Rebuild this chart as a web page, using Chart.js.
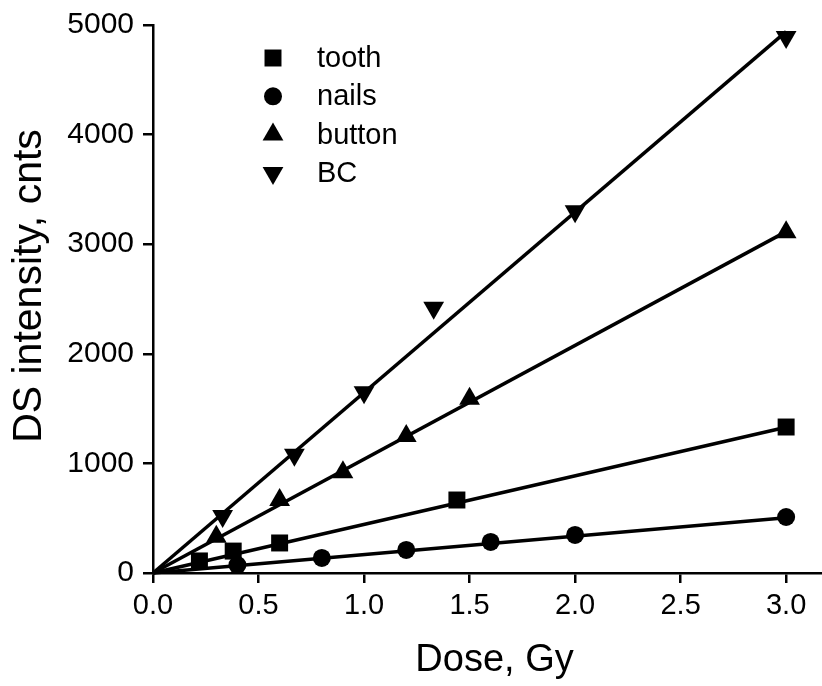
<!DOCTYPE html>
<html lang="en">
<head>
  <meta charset="UTF-8">
  <title>DS intensity vs dose</title>
  <script src="https://cdn.jsdelivr.net/npm/chart.js"></script>
  <style>
    html, body { margin: 0; padding: 0; background: #fff; }
    #wrap { width: 822px; height: 686px; }
  </style>
</head>
<body>
<div id="wrap">
  <canvas id="doseChart" width="822" height="686"></canvas>
</div>

<script>
  const toothDose = [0.22, 0.38, 0.6, 1.44, 3.0];
  const toothDS   = [110, 200, 274, 666, 1332];
  const nailsDose = [0.4, 0.8, 1.2, 1.6, 2.0, 3.0];
  const nailsDS   = [73, 137, 210, 283, 347, 511];
  const buttonDose = [0.3, 0.6, 0.9, 1.2, 1.5, 3.0];
  const buttonDS   = [330, 665, 920, 1250, 1590, 3110];
  const bcDose = [0.33, 0.67, 1.0, 1.33, 2.0, 3.0];
  const bcDS   = [520, 1080, 1650, 2420, 3300, 4890];

  // linear fits through origin (ends of the drawn lines)
  const fitDose   = [0, 3.0];
  const fitTooth  = [0, 1330];
  const fitNails  = [0, 505];
  const fitButton = [0, 3115];
  const fitBC     = [0, 4940];

  const xTicks = [0, 0.5, 1.0, 1.5, 2.0, 2.5, 3.0];
  const yTicks = [0, 1000, 2000, 3000, 4000, 5000];

  const xTitle = 'Dose, Gy';
  const yTitle = 'DS intensity, cnts';

  const FONT = "'Liberation Sans', Arial, sans-serif";

  const pts = (xs, ys) => xs.map((x, i) => ({ x: x, y: ys[i] }));

  function markerSet(label, xs, ys, style, radius, rotation) {
    return {
      label: label,
      data: pts(xs, ys),
      showLine: false,
      pointStyle: style,
      pointRadius: radius,
      pointHoverRadius: radius,
      pointRotation: rotation || 0,
      backgroundColor: '#000',
      borderColor: '#000',
      borderWidth: 0,
      clip: false
    };
  }

  function fitSet(ys) {
    return {
      label: '',
      fit: true,
      data: pts(fitDose, ys),
      showLine: true,
      pointRadius: 0,
      borderColor: '#000',
      borderWidth: 3.5,
      fill: false,
      clip: false
    };
  }

  // legend drawn inside the plot, upper left
  const insideLegend = {
    id: 'insideLegend',
    afterDatasetsDraw(chart) {
      const ctx = chart.ctx;
      const area = chart.chartArea;
      const x0 = area.left + 120;
      const tx = area.left + 164;
      let y = area.top + 33;
      ctx.save();
      ctx.font = '29px ' + FONT;
      ctx.fillStyle = '#000';
      ctx.textBaseline = 'middle';
      chart.data.datasets.forEach(ds => {
        if (ds.fit) return;
        const opts = { pointStyle: ds.pointStyle, radius: ds.pointRadius, rotation: ds.pointRotation, borderWidth: 0 };
        ctx.fillStyle = '#000';
        ctx.strokeStyle = '#000';
        if (Chart.helpers && Chart.helpers.drawPoint) {
          Chart.helpers.drawPoint(ctx, opts, x0, y);
        }
        ctx.fillText(ds.label, tx, y + 1);
        y += 38.3;
      });
      ctx.restore();
    }
  };

  // axis titles, placed a little off-centre like the original figure
  const axisTitles = {
    id: 'axisTitles',
    afterDraw(chart) {
      const ctx = chart.ctx;
      const area = chart.chartArea;
      ctx.save();
      ctx.fillStyle = '#000';
      ctx.textAlign = 'center';

      ctx.font = '38px ' + FONT;
      ctx.textBaseline = 'middle';
      ctx.fillText(xTitle, (area.left + area.right) / 2 + 7, chart.height - 25);

      ctx.translate(41, (area.top + area.bottom) / 2 - 13);
      ctx.rotate(-Math.PI / 2);
      ctx.font = '41px ' + FONT;
      ctx.textBaseline = 'alphabetic';
      ctx.fillText(yTitle, 0, 0);
      ctx.restore();
    }
  };

  new Chart(document.getElementById('doseChart'), {
    type: 'scatter',
    data: {
      datasets: [
        markerSet('tooth', toothDose, toothDS, 'rect', 12),
        markerSet('nails', nailsDose, nailsDS, 'circle', 9),
        markerSet('button', buttonDose, buttonDS, 'triangle', 12),
        markerSet('BC', bcDose, bcDS, 'triangle', 12, 180),
        fitSet(fitTooth),
        fitSet(fitNails),
        fitSet(fitButton),
        fitSet(fitBC)
      ]
    },
    options: {
      responsive: false,
      animation: false,
      devicePixelRatio: 1,
      layout: { autoPadding: false, padding: { top: 25, right: 0, bottom: 0, left: 0 } },
      plugins: {
        legend: { display: false },
        tooltip: { enabled: false }
      },
      scales: {
        x: {
          type: 'linear',
          min: 0,
          max: 3.17,
          afterFit: s => { s.height = 113; s.paddingLeft = 0; s.paddingRight = 0; },
          afterBuildTicks: s => { s.ticks = xTicks.map(v => ({ value: v })); },
          ticks: {
            includeBounds: false,
            color: '#000',
            font: { family: FONT, size: 29 },
            padding: 6,
            maxRotation: 0,
            callback: v => Number(v).toFixed(1)
          },
          grid: { drawOnChartArea: false, drawTicks: true, tickLength: 10, color: '#000', lineWidth: 2.5 },
          border: { display: true, color: '#000', width: 2.5 },
          title: { display: false }
        },
        y: {
          type: 'linear',
          min: 0,
          max: 5000,
          afterFit: s => { s.width = 153; s.paddingTop = 0; s.paddingBottom = 0; },
          afterBuildTicks: s => { s.ticks = yTicks.map(v => ({ value: v })); },
          ticks: {
            color: '#000',
            font: { family: FONT, size: 30 },
            padding: 9,
            callback: v => String(v)
          },
          grid: { drawOnChartArea: false, drawTicks: true, tickLength: 10, color: '#000', lineWidth: 2.5 },
          border: { display: true, color: '#000', width: 2.5 },
          title: { display: false }
        }
      }
    },
    plugins: [insideLegend, axisTitles]
  });
</script>
</body>
</html>
